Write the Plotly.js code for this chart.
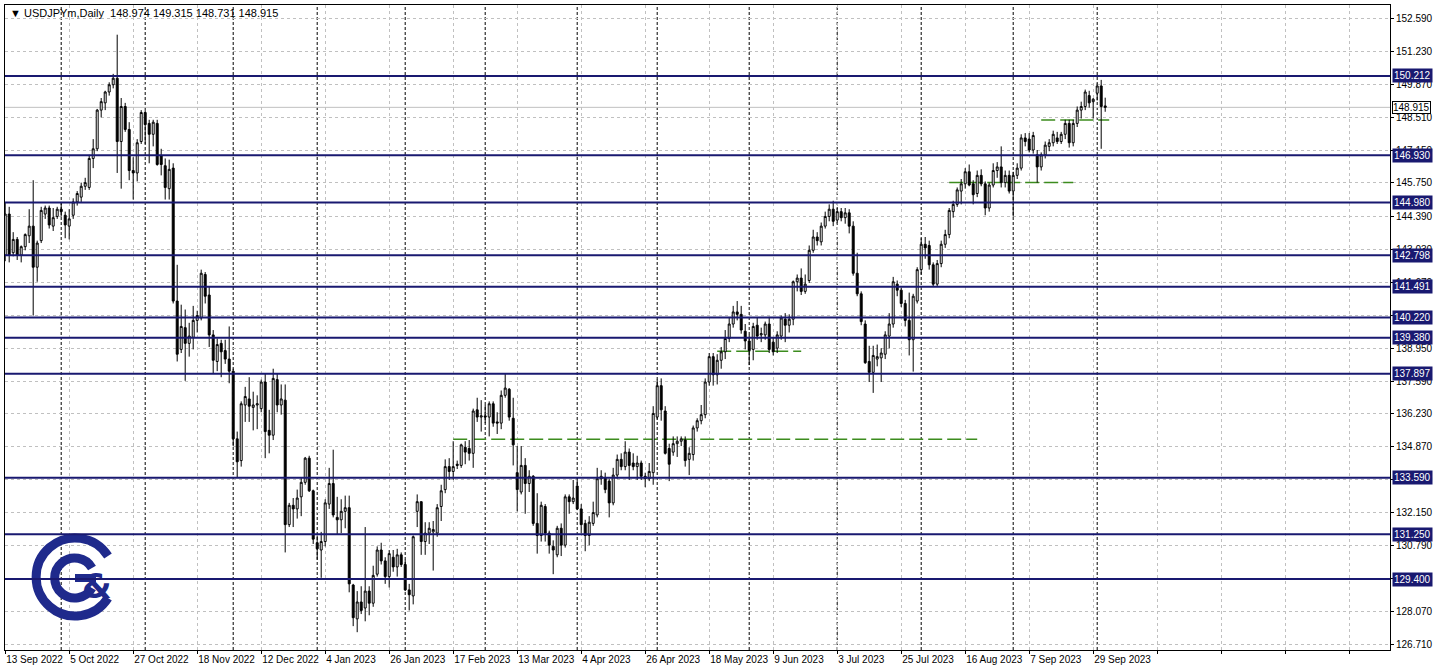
<!DOCTYPE html>
<html><head><meta charset="utf-8">
<script src="https://cdn.plot.ly/plotly-3.0.1.min.js"></script>
<style>html,body{margin:0;padding:0;background:#fff;overflow:hidden}#chart{width:1439px;height:671px}</style>
</head><body><div id="chart"></div>
<script>
// ---- daily candles (bar 0 = 13 Sep 2022 ... bar 275 = 4 Oct 2023) ----
const opens = [142.8,144.5,142.9,143.45,142.8,143.15,143.6,144.0,142.3,143.4,
144.5,144.75,144.0,144.4,144.7,144.45,144.0,144.45,145.0,145.2,
145.65,145.6,146.8,147.2,148.8,149.1,149.55,149.85,150.12,147.5,
148.95,148.0,146.3,146.2,147.5,148.7,148.25,147.8,148.25,146.9,
146.5,145.55,146.4,140.9,138.9,139.8,139.15,139.4,140.1,140.2,
142.0,141.15,139.5,138.4,139.15,138.85,138.5,138.0,135.2,134.3,
136.6,136.85,136.5,136.6,136.45,137.55,135.55,135.35,137.65,136.6,
136.8,131.65,132.45,132.3,132.8,133.4,134.4,133.05,130.9,130.6,
130.95,132.5,133.35,131.95,131.85,132.2,132.35,129.15,127.75,128.45,
128.2,128.9,128.4,129.6,130.6,130.15,129.5,130.3,129.9,130.4,
130.0,128.95,128.7,132.2,132.6,130.95,131.3,131.35,131.3,132.4,
133.1,134.05,133.85,134.15,134.1,134.85,134.8,134.6,136.4,136.1,
136.15,136.1,136.65,135.9,135.85,137.0,137.25,136.05,133.8,133.0,
134.1,133.35,133.65,131.7,131.2,132.4,131.3,130.75,130.4,131.5,
130.8,132.8,132.6,133.25,132.3,131.7,131.2,131.7,132.05,133.55,
133.6,133.45,132.55,133.7,134.35,134.05,134.65,134.2,134.05,134.2,
133.65,133.55,133.8,136.1,137.4,136.35,134.8,134.65,135.0,135.1,
135.15,134.35,134.55,135.65,135.95,136.2,137.55,138.6,137.85,138.45,
138.8,139.35,139.95,140.45,140.35,139.65,139.25,138.9,139.9,139.5,
139.5,139.95,139.2,138.95,139.45,140.15,139.9,140.15,141.7,141.85,
141.3,141.75,143.0,143.55,143.35,144.0,144.4,144.7,144.25,144.6,
144.35,144.55,144.0,142.05,141.2,139.95,138.4,137.95,138.5,138.55,
138.7,139.45,139.95,141.6,141.35,140.8,140.1,139.3,140.9,142.2,
143.25,143.2,142.4,141.6,142.45,143.25,143.65,144.6,144.9,145.45,
145.75,146.25,145.75,145.35,146.1,145.75,144.75,145.7,146.3,146.45,
145.8,146.1,145.45,146.1,146.4,147.65,147.6,147.15,146.95,146.45,
146.95,147.3,147.45,147.65,147.5,147.8,148.25,147.45,148.25,148.8,
148.95,149.4,149.15,149.5,149.8,148.974];
const highs = [144.96,144.8,143.75,143.55,143.2,143.7,144.7,145.9,143.4,144.8,
144.85,144.85,144.75,144.8,145.0,144.6,144.7,145.15,145.45,145.8,
146.0,146.95,147.6,148.85,149.3,149.6,149.95,150.3,151.92,149.3,
149.1,148.3,146.85,147.6,148.8,148.8,148.4,148.4,148.4,147.2,
146.8,146.75,146.6,142.4,140.75,140.55,140.0,140.7,140.5,142.2,
142.1,141.5,139.7,139.35,139.3,139.3,139.85,138.1,135.5,136.75,
137.35,137.75,137.15,137.0,137.65,137.9,136.4,138.1,137.9,137.45,
137.45,132.55,132.75,133.1,133.6,134.45,134.5,133.1,131.2,131.35,
132.7,134.0,134.75,132.8,132.7,132.85,132.85,129.2,128.9,129.1,
131.55,129.1,129.95,130.75,130.9,130.3,130.6,130.6,130.65,130.5,
130.2,129.2,131.2,132.9,132.6,131.75,131.75,131.8,132.5,133.3,
134.35,134.4,135.1,134.3,135.0,135.1,135.15,136.45,136.9,136.8,
136.6,136.75,136.75,136.3,137.2,137.9,137.3,136.9,134.9,134.9,
134.4,133.9,133.7,132.95,132.6,132.5,131.4,131.0,131.6,131.7,
132.9,132.9,133.5,133.6,132.5,131.85,132.0,132.6,134.0,133.9,
133.8,133.55,134.0,134.55,134.6,135.1,134.8,134.6,134.5,134.3,
133.8,134.2,136.55,137.65,137.7,136.55,135.0,135.3,135.3,135.3,
135.3,134.85,135.75,136.05,136.6,137.7,138.75,138.75,138.7,139.0,
139.7,140.2,140.7,140.9,140.7,139.95,139.5,140.0,140.2,139.8,
140.05,140.25,139.4,139.65,140.3,140.4,140.35,141.75,142.0,142.25,
142.0,143.2,143.85,143.75,144.15,144.6,144.9,145.05,144.75,144.75,
144.75,144.7,144.2,142.9,141.3,140.1,139.05,139.05,139.1,138.95,
139.65,140.4,141.9,141.75,141.45,140.95,141.25,141.2,142.3,143.5,
143.55,143.4,142.5,142.6,143.4,143.85,144.75,145.05,145.6,145.95,
146.4,146.55,145.9,146.3,146.35,145.85,145.8,146.6,146.65,147.3,
146.3,146.3,146.25,146.6,147.8,147.85,147.85,147.9,147.15,147.05,
147.5,147.6,147.95,147.9,147.9,148.4,148.4,148.4,148.95,149.15,
149.65,149.6,149.3,149.9,150.05,149.315];
const lows = [142.55,142.5,142.75,142.6,142.5,143.0,143.3,140.3,141.7,143.3,
144.3,143.9,143.8,144.3,144.4,143.5,143.45,144.3,144.85,145.0,
145.5,145.5,146.4,147.1,148.5,148.8,149.4,149.7,146.2,145.55,
147.9,145.9,145.1,145.85,147.4,147.4,146.6,147.3,146.5,146.1,
145.1,145.1,140.8,138.4,138.75,137.6,138.6,138.9,139.6,140.1,
140.8,139.0,137.9,138.0,137.75,138.3,137.5,134.9,133.6,134.05,
135.9,135.9,135.55,135.6,136.3,134.4,134.6,135.15,136.3,136.2,
130.5,131.55,131.55,131.9,132.0,133.3,133.0,130.85,130.2,129.45,
130.75,132.3,131.95,131.25,131.3,131.5,128.85,127.45,127.2,127.95,
127.65,127.9,128.25,129.5,130.0,129.2,129.05,129.7,129.5,129.9,
128.9,128.1,128.35,131.55,130.4,130.4,130.85,129.75,131.15,131.8,
132.95,133.5,133.5,133.95,134.0,134.15,134.3,134.0,135.9,135.5,
135.85,135.3,135.7,135.4,135.6,136.9,135.95,134.1,132.2,132.9,
132.1,133.0,131.6,130.45,130.95,130.95,130.45,129.6,130.3,130.35,
130.7,132.1,132.5,132.25,131.3,130.55,130.8,131.6,131.95,133.3,
132.95,131.95,132.45,133.55,133.9,133.9,133.5,133.9,133.5,133.5,
133.2,133.45,133.3,136.0,135.95,134.55,133.45,134.5,134.45,134.9,
134.05,133.7,134.3,135.5,135.8,136.05,137.4,137.4,137.45,138.1,
138.5,139.2,139.8,140.1,139.55,138.9,138.25,138.45,139.3,139.2,
139.3,138.75,138.65,138.75,139.3,139.2,139.6,139.9,141.3,141.15,
141.2,141.65,142.9,143.2,143.2,143.9,144.2,144.0,144.1,144.2,
144.1,143.7,141.95,141.1,139.9,138.3,137.55,137.1,138.2,137.55,
138.5,138.95,139.8,141.1,140.65,139.85,138.65,137.98,140.8,142.0,
142.65,142.2,141.5,141.5,142.3,143.1,143.5,144.35,144.8,144.9,
145.55,145.65,144.9,145.2,145.65,144.45,144.6,145.6,146.0,145.6,
145.6,145.35,144.4,145.95,146.3,147.3,147.05,147.0,145.8,146.3,
146.8,147.1,147.3,147.4,147.4,147.6,147.25,147.3,148.1,148.45,
148.8,148.9,148.45,149.2,147.2,148.731];
const closes = [144.5,142.8,143.45,142.8,143.15,143.65,144.0,142.3,143.3,144.65,
144.75,144.05,144.35,144.7,144.6,144.05,144.3,145.0,145.35,145.65,
145.8,146.8,147.2,148.8,149.15,149.55,149.85,150.12,147.5,148.95,
148.0,146.3,146.2,147.45,148.7,148.2,147.8,148.3,146.55,146.55,
145.6,146.35,140.9,138.7,139.85,139.15,139.45,140.1,140.3,142.05,
141.1,139.5,138.45,139.1,138.8,138.5,138.0,135.2,134.25,136.65,
136.95,136.55,136.6,136.65,137.55,135.5,135.35,137.7,136.6,136.85,
131.65,132.45,132.3,132.75,133.4,134.4,133.05,131.05,130.65,130.95,
132.55,133.35,132.05,131.85,132.2,132.35,129.2,127.8,128.45,128.1,
128.9,128.4,129.55,130.6,130.15,129.5,130.45,129.9,130.4,130.0,
128.95,128.75,131.15,132.6,130.95,131.3,131.5,131.45,132.35,133.05,
134.05,133.85,134.05,134.1,134.95,134.65,134.6,136.35,136.1,136.15,
136.1,136.65,135.85,135.85,137.0,137.3,136.1,134.95,133.1,134.1,
133.35,133.65,131.7,131.2,132.45,131.3,130.8,130.6,131.5,130.8,
132.8,132.6,132.75,132.3,131.65,131.2,131.75,132.15,133.55,133.65,
133.1,132.55,133.7,134.35,134.05,134.65,134.1,134.05,134.2,133.65,
133.55,133.85,136.25,137.4,136.4,134.6,134.15,135.0,135.1,135.2,
134.3,134.6,135.65,135.95,136.2,137.55,138.6,137.85,138.45,138.8,
139.35,139.95,140.45,140.35,139.7,139.25,138.85,139.85,139.45,139.55,
139.95,138.9,138.8,139.5,140.2,139.9,140.15,141.7,141.85,141.3,
141.6,143.0,143.55,143.4,144.0,144.4,144.7,144.2,144.6,144.35,
144.55,144.0,142.05,141.2,140.05,138.35,137.95,138.65,138.6,138.75,
139.5,139.95,141.7,141.35,140.8,140.1,139.3,141.1,142.2,143.25,
143.1,142.4,141.6,142.45,143.25,143.65,144.65,144.9,145.5,145.75,
146.25,145.7,145.3,146.1,145.75,144.75,145.7,146.3,146.45,145.8,
146.1,145.45,146.1,146.4,147.65,147.5,147.15,147.75,146.45,146.95,
147.35,147.45,147.8,147.5,147.8,148.25,147.45,148.25,148.8,148.95,
149.55,149.1,149.25,149.8,148.95,148.915];

// ---- axes ----
const dateTickBars = [0,16,32,48,64,80,96,112,128,144,160,176,192,208,224,240,256,272,288,304,320,336];
const dateTickLabels = ['13 Sep 2022','5 Oct 2022','27 Oct 2022','18 Nov 2022','12 Dec 2022','4 Jan 2023',
  '26 Jan 2023','17 Feb 2023','13 Mar 2023','4 Apr 2023','26 Apr 2023','18 May 2023','9 Jun 2023',
  '3 Jul 2023','25 Jul 2023','16 Aug 2023','7 Sep 2023','29 Sep 2023','','','',''];
const monthStartBars = [14,35,57,78,100,120,143,163,186,208,229,252,273];
const priceTicks = [152.59,151.23,149.87,148.51,147.15,145.79,144.39,143.03,141.67,140.31,
  138.95,137.59,136.23,134.87,133.51,132.15,130.79,129.43,128.07,126.71];
const priceTickLabels = ['152.590','151.230','149.870','148.510','147.150','145.750','144.390','143.030',
  '141.670','140.310','138.950','137.590','136.230','134.870','133.510','132.150','130.790','129.430',
  '128.070','126.710'];

// ---- drawn objects ----
const levelPrices = [150.212,146.930,144.980,142.798,141.491,140.220,139.380,137.897,133.590,131.250,129.400];
const levelLabels = ['150.212','146.930','144.980','142.798','141.491','140.220','139.380','137.897','133.590','131.250','129.400'];
const greenStart = [112,178,236,259];
const greenEnd   = [243,199,267,276];
const greenPrice = [135.18,138.82,145.81,148.39];
const lastPrice = 148.915;
const headerText = '\u25BC USDJPYm,Daily  148.974 149.315 148.731 148.915';

const bars = opens.map((_, i) => i);
const NAVY = '#191970';
const FONT = 'Liberation Sans, Arial, DejaVu Sans, sans-serif';

const trace = {
  type: 'candlestick', x: bars, open: opens, high: highs, low: lows, close: closes,
  increasing: {line: {color: '#000', width: 1}, fillcolor: '#ffffff'},
  decreasing: {line: {color: '#000', width: 1}, fillcolor: '#000000'},
  whiskerwidth: 0, hoverinfo: 'skip', showlegend: false
};

const shapes = [];
monthStartBars.forEach(b => shapes.push({type:'line', xref:'x', yref:'paper', x0:b, x1:b, y0:0, y1:1,
  line:{color:'#000', width:1, dash:'3px,2px'}, layer:'between'}));
greenPrice.forEach((p, k) => shapes.push({type:'line', xref:'x', yref:'y', x0:greenStart[k], x1:greenEnd[k], y0:p, y1:p,
  line:{color:'#3c8c1e', width:1.5, dash:'14px,5px'}, layer:'between'}));
shapes.push({type:'line', xref:'paper', yref:'y', x0:0, x1:1, y0:lastPrice, y1:lastPrice,
  line:{color:'#c0c0c0', width:1}, layer:'between'});
levelPrices.forEach(p => shapes.push({type:'line', xref:'paper', yref:'y', x0:0, x1:1, y0:p, y1:p,
  line:{color:NAVY, width:2}, layer:'above'}));

const annotations = levelPrices.map((p, k) => ({
  xref:'paper', x:1, xanchor:'left', xshift:2, yref:'y', y:p, yanchor:'middle',
  text: levelLabels[k], showarrow:false, bgcolor:NAVY, borderpad:1,
  font:{family:FONT, size:10, color:'#fff'}
}));
annotations.push({xref:'paper', x:1, xanchor:'left', xshift:2, yref:'y', y:lastPrice, yanchor:'middle',
  text:'148.915', showarrow:false, bgcolor:'#ffffff', bordercolor:'#000', borderwidth:1, borderpad:0,
  font:{family:FONT, size:10, color:'#000'}});
annotations.push({xref:'paper', x:0, xanchor:'left', xshift:3, yref:'paper', y:1, yanchor:'top', yshift:0,
  text: headerText, showarrow:false, font:{family:FONT, size:11, color:'#000'}});

const logoSvg = "<svg xmlns='http://www.w3.org/2000/svg' width='90' height='90' viewBox='0 0 90 90'>" +
  "<path d='M 78 24 A 39 39 0 1 0 78 66' fill='none' stroke='#1f2a8c' stroke-width='9'/>" +
  "<path d='M 62 36 A 20 20 0 1 0 62 56' fill='none' stroke='#1f2a8c' stroke-width='9'/>" +
  "<path d='M 45 46 L 66 46' stroke='#1f2a8c' stroke-width='8'/>" +
  "<text x='52' y='66' font-family='DejaVu Sans' font-weight='bold' font-size='34' fill='#1f2a8c'>&amp;</text></svg>";

const layout = {
  width: 1439, height: 671,
  margin: {l:5, r:49, t:5, b:21, pad:0},
  paper_bgcolor:'#ffffff', plot_bgcolor:'#ffffff',
  showlegend:false,
  font:{family:FONT, size:10, color:'#000'},
  xaxis: {
    range:[-0.05, 346.2], rangeslider:{visible:false}, fixedrange:true,
    tickmode:'array', tickvals:dateTickBars, ticktext:dateTickLabels, tickangle:0,
    ticklabelposition:'outside right', ticks:'outside', ticklen:3, tickcolor:'#000',
    showgrid:true, gridcolor:'#c0c0c0', griddash:'3px,3px', gridwidth:1,
    showline:true, linecolor:'#000', linewidth:1, mirror:true, zeroline:false,
    tickfont:{family:FONT, size:10, color:'#000'}
  },
  yaxis: {
    side:'right', range:[126.463, 153.149], fixedrange:true,
    tickmode:'array', tickvals:priceTicks, ticktext:priceTickLabels,
    ticks:'outside', ticklen:3, tickcolor:'#000',
    showgrid:true, gridcolor:'#c0c0c0', griddash:'3px,3px', gridwidth:1,
    showline:true, linecolor:'#000', linewidth:1, mirror:true, zeroline:false,
    tickfont:{family:FONT, size:10, color:'#000'}
  },
  shapes: shapes,
  annotations: annotations,
  images: [{source:'data:image/svg+xml;charset=utf-8,' + encodeURIComponent(logoSvg),
    xref:'paper', yref:'paper', x:(30-5)/1385, y:(650-532)/645, sizex:90/1385, sizey:90/645,
    xanchor:'left', yanchor:'top', sizing:'stretch', layer:'above'}]
};

Plotly.newPlot('chart', [trace], layout, {staticPlot:true, displayModeBar:false});
</script></body></html>
